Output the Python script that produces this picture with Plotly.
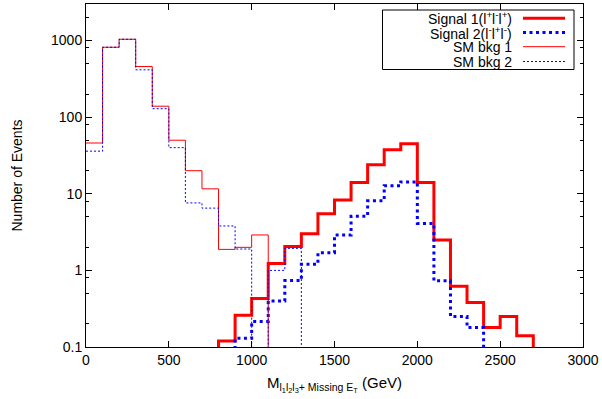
import math
import plotly.graph_objects as go

# ---------------- data ----------------
bin_lo = [0, 100, 200, 300, 400, 500, 600, 700, 800, 900,
          1000, 1100, 1200, 1300, 1400, 1500, 1600, 1700, 1800, 1900,
          2000, 2100, 2200, 2300, 2400, 2500, 2600, 2700, 2800, 2900]
bin_width = 100

signal1 = [0, 0, 0, 0, 0, 0, 0, 0, 0.12, 0.26,
           0.43, 1.23, 2.05, 3.0, 5.5, 8.3, 14, 24, 37.5, 45,
           14, 2.5, 0.62, 0.38, 0.18, 0.25, 0.14, 0, 0, 0]
signal2 = [0, 0, 0, 0, 0, 0, 0, 0, 0, 0.13,
           0.215, 0.40, 0.74, 1.2, 1.7, 2.9, 5.1, 8.1, 12.7, 14.3,
           4.1, 0.73, 0.25, 0.18, 0, 0, 0, 0, 0, 0]
smbkg1 = [46, 818, 1040, 458, 139, 50, 20, 11.6, 1.88, 2.0,
          2.9, 0, 0, 0, 0, 0, 0, 0, 0, 0,
          0, 0, 0, 0, 0, 0, 0, 0, 0, 0]
smbkg2 = [36, 818, 1040, 415, 129, 40, 7.6, 6.5, 3.8, 1.9,
          0, 1.0, 1.94, 0, 0, 0, 0, 0, 0, 0,
          0, 0, 0, 0, 0, 0, 0, 0, 0, 0]

series_names = ["Signal 1(l<sup>+</sup>l<sup>-</sup>l<sup>+</sup>)",
                "Signal 2(l<sup>-</sup>l<sup>+</sup>l<sup>-</sup>)",
                "SM bkg 1", "SM bkg 2"]
series_vals = [signal1, signal2, smbkg1, smbkg2]
series_colors = ["#ff0000", "#0000ff", "#ff0000", "#0000ff"]
series_widths = [3, 3, 1, 1]
series_dash = ["solid", "3px,3.5px", "solid", "2px,2px"]

x_ticks = [0, 500, 1000, 1500, 2000, 2500, 3000]
y_ticks = [0.1, 1, 10, 100, 1000]
y_ticktext = ["0.1", "1", "10", "100", "1000"]
y_minor = [0.2, 0.5, 0.8, 2, 5, 8, 20, 50, 80, 200, 500, 800, 2000]

FLOOR = 1e-4  # empty bins drawn below the visible range
FONT = "Liberation Sans, Arial, Helvetica, sans-serif"


def step_xy(vals):
    xs, ys = [], []
    for lo, v in zip(bin_lo, vals):
        xs.append(lo)
        ys.append(v if v > 0 else FLOOR)
    xs.append(bin_lo[-1] + bin_width)
    ys.append(FLOOR)
    return xs, ys


fig = go.Figure()
for name, vals, col, w, d in zip(series_names, series_vals, series_colors,
                                 series_widths, series_dash):
    xs, ys = step_xy(vals)
    fig.add_trace(go.Scatter(x=xs, y=ys, mode="lines", name=name,
                             line=dict(color=col, width=w, dash=d, shape="hv"),
                             showlegend=False))

# ---------------- layout ----------------
L, R, T, B = 86, 19, 4, 52
W, H = 602, 399
pw, ph = W - L - R, H - T - B


def px_x(p):
    return (p - L) / pw


def px_y(p):
    return (H - B - p) / ph


# custom legend (text right, sample at right like gnuplot)
fig.add_shape(type="rect", xref="paper", yref="paper",
              x0=px_x(382.5), x1=px_x(574), y0=px_y(69.5), y1=px_y(10),
              line=dict(color="black", width=1), fillcolor="white", layer="above")
row_y = [18.3, 32.5, 46.7, 61.5]
for name, col, w, d, ry in zip(series_names, series_colors, series_widths,
                               series_dash, row_y):
    fig.add_shape(type="line", xref="paper", yref="paper",
                  x0=px_x(523), x1=px_x(565), y0=px_y(ry), y1=px_y(ry),
                  line=dict(color=col, width=w, dash=d), layer="above")
    fig.add_annotation(text=name, xref="paper", yref="paper",
                       x=px_x(513.5), y=px_y(ry), xanchor="right",
                       yanchor="middle", showarrow=False,
                       font=dict(family=FONT, size=14, color="black"))

x_title = ("M<sub>l<sub>1</sub>l<sub>2</sub>"
           "l<sub>3</sub>+ Missing E<sub>T</sub></sub> (GeV)")

fig.update_layout(
    width=W, height=H,
    margin=dict(l=L, r=R, t=T, b=B, pad=0),
    paper_bgcolor="white", plot_bgcolor="white",
    font=dict(family=FONT, size=14, color="black"),
    showlegend=False,
)
fig.update_xaxes(
    range=[0, 3000], tickmode="array", tickvals=x_ticks,
    ticks="inside", ticklen=6, tickwidth=1, tickcolor="black",
    showline=True, linecolor="black", linewidth=1, mirror="allticks",
    showgrid=False, zeroline=False,
    tickfont=dict(family=FONT, size=14),
    title=dict(text=x_title, font=dict(family=FONT, size=15), standoff=10),
)
fig.update_yaxes(
    type="log", range=[-1, math.log10(3000)],
    tickmode="array", tickvals=y_ticks, ticktext=y_ticktext,
    ticks="inside", ticklen=6, tickwidth=1, tickcolor="black",
    minor=dict(tickmode="array", tickvals=y_minor, ticks="inside",
               ticklen=3, tickcolor="black", showgrid=False),
    showline=True, linecolor="black", linewidth=1, mirror="allticks",
    showgrid=False, zeroline=False,
    tickfont=dict(family=FONT, size=14),
    title=dict(text="Number of Events", font=dict(family=FONT, size=14),
               standoff=25),
)

fig.write_html("out.html")
